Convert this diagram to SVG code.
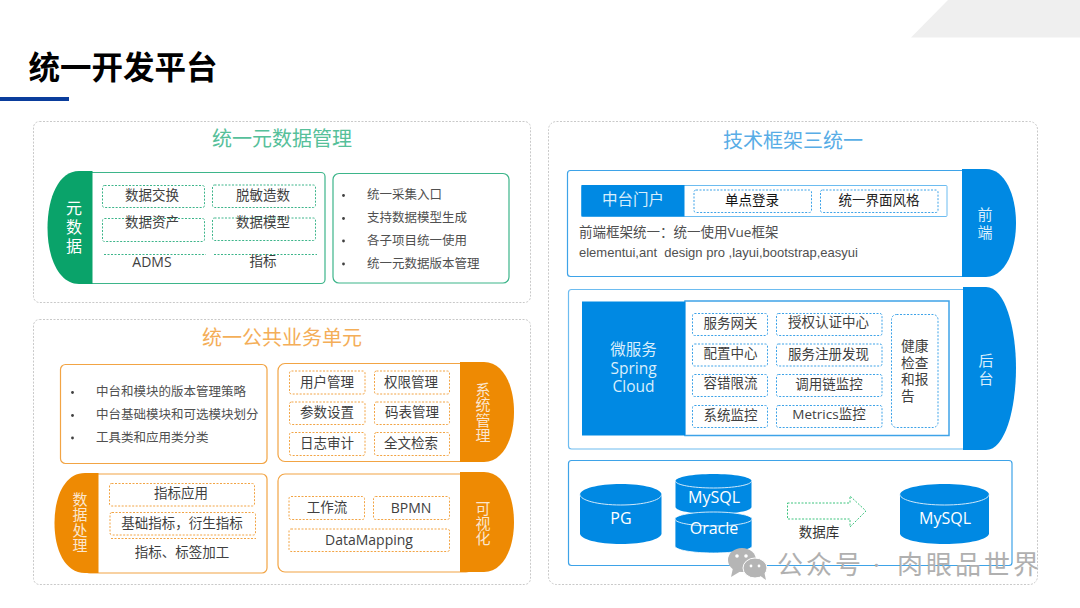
<svg xmlns="http://www.w3.org/2000/svg" width="1080" height="608" viewBox="0 0 1080 608">
<style>
text{font-family:"Open Sans","Noto Sans CJK SC",sans-serif;dominant-baseline:central;fill:#3f3f3f;transform:translateY(-1px)}
.m{text-anchor:middle}
.t13{font-size:13.5px}
.t14{font-size:14px}
.l12{font-size:12.5px;fill:#505050}
.h{font-size:20px;text-anchor:middle}
.v{font-size:15px;text-anchor:middle;fill:#fbe6cf}
.panel{fill:#fff;stroke:#c9c9c9;stroke-width:1;stroke-dasharray:2 1.5}
.g{fill:#fff;stroke:#3db58a;stroke-width:1.2}
.gd{fill:#fff;stroke:#3db58a;stroke-width:1;stroke-dasharray:2 1.5}
.gl{stroke:#3db58a;stroke-width:1;stroke-dasharray:2 1.5;fill:none}
.o{fill:#fff;stroke:#f2a444;stroke-width:1.2}
.od{fill:#fff;stroke:#f2a444;stroke-width:1;stroke-dasharray:2 1.5}
.ol{stroke:#f2a444;stroke-width:1;stroke-dasharray:2 1.5;fill:none}
.b{fill:#fff;stroke:#3ea3e8;stroke-width:1.2}
.bd{fill:#fff;stroke:#3ea3e8;stroke-width:1;stroke-dasharray:2 1.5}
.bf{fill:#0089e3}
.of{fill:#ee8a03}
.gf{fill:#0aa36a}
.rim{fill:none;stroke:#cfe8fa;stroke-width:1}
.dot{fill:#404040}
.lb{fill:#d9eefc}
.cy{font-size:16px;fill:#fff}
</style>
<rect width="1080" height="608" fill="#fff"/>
<g id="header">
<polygon points="948,0 911,37.5 1080,37.5 1080,0" fill="#efefef"/>
<text x="28.500" y="67" style="font-size:31.500px;font-weight:700;fill:#000">统一开发平台</text>
<rect x="0" y="97" width="69" height="4" fill="#0a3d9c"/>
</g>

<g id="panel-metadata">
<rect class="panel" x="33.5" y="121.5" width="497" height="181" rx="6"/>
<text class="h" x="282" y="139" style="fill:#56c09a">统一元数据管理</text>
</g>
<g id="node-metadata">
<rect class="g" x="80" y="172.5" width="245" height="111" rx="4"/>
<path class="gf" d="M92.500,171V284H79C59,284 47.500,258 47.500,228C47.500,197 59,171 79,171Z"/>
<text class="m" style="font-size:16px;fill:#fff"><tspan x="74" y="209">元</tspan><tspan x="74" y="228">数</tspan><tspan x="74" y="247">据</tspan></text>
<rect class="gd" x="102.500" y="185.500" width="102" height="22" rx="2"/>
<text class="m t13" x="152" y="196">数据交换</text>
<rect class="gd" x="212.500" y="185" width="103" height="22.500" rx="2"/>
<text class="m t13" x="263" y="195.500">脱敏造数</text>
<rect class="gd" x="102.500" y="218.500" width="102" height="23" rx="2"/>
<text class="m t13" x="152" y="223">数据资产</text>
<rect class="gd" x="212.500" y="218" width="103" height="22.500" rx="2"/>
<text class="m t13" x="263" y="223">数据模型</text>
<path class="gl" d="M104,254.500H206M214,254.500H317"/>
<text class="m t14" x="152" y="262">ADMS</text>
<text class="m t13" x="263" y="262">指标</text>
</g>
<g id="node-metadata-list">
<rect class="g" x="333" y="173.500" width="176" height="109.500" rx="6"/>
<circle class="dot" cx="343.500" cy="195.500" r="1.400"/>
<circle class="dot" cx="343.500" cy="218.500" r="1.400"/>
<circle class="dot" cx="343.500" cy="241" r="1.400"/>
<circle class="dot" cx="343.500" cy="264" r="1.400"/>
<text class="l12" x="367" y="195.500">统一采集入口</text>
<text class="l12" x="367" y="218.500">支持数据模型生成</text>
<text class="l12" x="367" y="241.500">各子项目统一使用</text>
<text class="l12" x="367" y="264.500">统一元数据版本管理</text>
</g>

<g id="panel-common">
<rect class="panel" x="33.500" y="319.500" width="497" height="265" rx="6"/>
<text class="h" x="282" y="338" style="fill:#f4ae58">统一公共业务单元</text>
</g>
<g id="node-common-list">
<rect class="o" x="60.500" y="364.500" width="206.500" height="99" rx="5"/>
<circle class="dot" cx="72.500" cy="392.500" r="1.400"/>
<circle class="dot" cx="72.500" cy="415.500" r="1.400"/>
<circle class="dot" cx="72.500" cy="438" r="1.400"/>
<text class="l12" x="96" y="392.500">中台和模块的版本管理策略</text>
<text class="l12" x="96" y="415">中台基础模块和可选模块划分</text>
<text class="l12" x="96" y="438">工具类和应用类分类</text>
</g>
<g id="node-system">
<rect class="o" x="278" y="363.500" width="195" height="98" rx="7"/>
<path class="of" d="M460,362H484C503,362 514,385 514,412C514,439 503,462 484,462H460Z"/>
<text class="v"><tspan x="483" y="389.500">系</tspan><tspan x="483" y="405">统</tspan><tspan x="483" y="420.500">管</tspan><tspan x="483" y="436">理</tspan></text>
<rect class="od" x="289.500" y="371" width="75.500" height="23" rx="2"/>
<text class="m t13" x="327" y="382.500">用户管理</text>
<rect class="od" x="374.500" y="371" width="75" height="23" rx="2"/>
<text class="m t13" x="411" y="382.500">权限管理</text>
<rect class="od" x="289.500" y="402" width="75.500" height="22.500" rx="2"/>
<text class="m t13" x="327" y="413">参数设置</text>
<rect class="od" x="374.500" y="402" width="75" height="22.500" rx="2"/>
<text class="m t13" x="412" y="413">码表管理</text>
<rect class="od" x="289.500" y="432.500" width="75.500" height="23" rx="2"/>
<text class="m t13" x="327" y="443.500">日志审计</text>
<rect class="od" x="374.500" y="432.500" width="75" height="23" rx="2"/>
<text class="m t13" x="411" y="443.500">全文检索</text>
</g>
<g id="node-dataproc">
<rect class="o" x="85" y="474" width="182" height="99" rx="5"/>
<path class="of" d="M98.500,473V573H85C65,573 54.500,550 54.500,523C54.500,496 65,473 85,473Z"/>
<text class="v"><tspan x="80" y="499.500">数</tspan><tspan x="80" y="515">据</tspan><tspan x="80" y="530.500">处</tspan><tspan x="80" y="546">理</tspan></text>
<rect class="od" x="109.500" y="483.500" width="145" height="22.500" rx="2"/>
<text class="m t13" x="181" y="494">指标应用</text>
<rect class="od" x="110" y="512.500" width="145.500" height="22.500" rx="2"/>
<text class="m t13" x="182" y="523.500">基础指标，衍生指标</text>
<path class="ol" d="M111,538.500H256"/>
<text class="m t13" x="182" y="553">指标、标签加工</text>
</g>
<g id="node-visual">
<rect class="o" x="278" y="474" width="195" height="98" rx="7"/>
<path class="of" d="M460,472H484C503,472 514,495 514,522C514,549 503,572 484,572H460Z"/>
<text class="v"><tspan x="483" y="508.500">可</tspan><tspan x="483" y="523.500">视</tspan><tspan x="483" y="539">化</tspan></text>
<rect class="od" x="289" y="496.500" width="75.500" height="23" rx="2"/>
<text class="m t13" x="327" y="508">工作流</text>
<rect class="od" x="373.500" y="496.500" width="76" height="23" rx="2"/>
<text class="m t14" x="411" y="508">BPMN</text>
<rect class="od" x="289" y="529" width="160.500" height="22.500" rx="2"/>
<text class="m t14" x="369" y="540">DataMapping</text>
</g>

<g id="panel-tech">
<rect class="panel" x="548.500" y="121.500" width="489" height="463" rx="8"/>
<text class="h" x="793" y="141" style="fill:#58ade6">技术框架三统一</text>
</g>
<g id="node-frontend">
<rect class="b" x="567.500" y="170.500" width="410" height="106" rx="3"/>
<path class="bf" d="M962,169H986C1005,169 1016,195 1016,223C1016,251 1005,277 986,277H962Z"/>
<text class="m lb" style="font-size:15px"><tspan x="985" y="215">前</tspan><tspan x="985" y="233">端</tspan></text>
<rect x="581.500" y="185.500" width="365.500" height="31" rx="1" fill="#fff" stroke="#6dbcf0" stroke-width="1"/>
<rect class="bf" x="581.500" y="185" width="103" height="31.500"/>
<text class="m lb" x="633" y="200" style="font-size:15.500px">中台门户</text>
<rect class="bd" x="694" y="190" width="117.500" height="22.500" rx="2"/>
<text class="m t13" x="752" y="201" style="fill:#111">单点登录</text>
<rect class="bd" x="820.500" y="190" width="117.500" height="22.500" rx="2"/>
<text class="m t13" x="879" y="201" style="fill:#222">统一界面风格</text>
<text x="579" y="233" style="font-size:13.500px;fill:#505050">前端框架统一：统一使用Vue框架</text>
<text x="579" y="253.500" xml:space="preserve" style="font-family:'Liberation Sans',Arial,sans-serif;font-size:13px;fill:#505050">elementui,ant  design pro ,layui,bootstrap,easyui</text>
</g>
<g id="node-backend">
<rect class="b" x="568.500" y="289.500" width="409" height="159.500" rx="3" style="stroke:#6dbcf0"/>
<path class="bf" d="M963,287H986C1005,287 1016,328 1016,368C1016,409 1005,450 986,450H963Z"/>
<text class="m lb" style="font-size:15px"><tspan x="986" y="361">后</tspan><tspan x="986" y="379">台</tspan></text>
<rect x="685" y="301" width="264" height="134.500" fill="#fff" stroke="#3ea3e8" stroke-width="1.500"/>
<rect class="bf" x="582" y="301.500" width="103" height="134"/>
<text class="m lb" style="font-size:15.500px"><tspan x="633.500" y="350">微服务</tspan><tspan x="633.500" y="369">Spring</tspan><tspan x="633.500" y="387">Cloud</tspan></text>
<rect class="bd" x="692.500" y="313.500" width="75" height="22" rx="2"/>
<text class="m t13" x="730.500" y="324">服务网关</text>
<rect class="bd" x="776.500" y="313.500" width="105.500" height="22" rx="2"/>
<text class="m t13" x="828.500" y="323">授权认证中心</text>
<rect class="bd" x="692.500" y="344" width="75" height="22" rx="2"/>
<text class="m t13" x="730.500" y="354">配置中心</text>
<rect class="bd" x="776.500" y="344" width="105.500" height="22" rx="2"/>
<text class="m t13" x="828.500" y="354.500">服务注册发现</text>
<rect class="bd" x="692.500" y="374.500" width="75" height="22" rx="2"/>
<text class="m t13" x="730.500" y="384">容错限流</text>
<rect class="bd" x="776.500" y="374.500" width="105.500" height="22" rx="2"/>
<text class="m t13" x="829" y="385">调用链监控</text>
<rect class="bd" x="692.500" y="405.500" width="75" height="22" rx="2"/>
<text class="m t13" x="730.500" y="416">系统监控</text>
<rect class="bd" x="776.500" y="405.500" width="105.500" height="22" rx="2"/>
<text class="m t13" x="829" y="415">Metrics监控</text>
<rect class="bd" x="891.500" y="314.500" width="46.500" height="113" rx="5"/>
<text style="font-size:13.700px"><tspan x="901" y="346">健康</tspan><tspan x="901" y="363">检查</tspan><tspan x="901" y="379">和报</tspan><tspan x="901" y="396">告</tspan></text>
</g>
<g id="node-database">
<rect class="b" x="568.500" y="460.500" width="443.500" height="105" rx="3"/>
</g>
<g id="node-pg">
<path class="bf" d="M580,494.500C580,488.700 598,484 620.800,484C643.500,484 661.500,488.700 661.500,494.500V533.500C661.500,539.300 643.500,544 620.800,544C598,544 580,539.300 580,533.500Z"/>
<path class="rim" d="M580,494.500C580,500.300 598,505 620.800,505C643.500,505 661.500,500.300 661.500,494.500"/>
<text class="m cy" x="621" y="518.500">PG</text>
</g>
<g id="node-mysql-a">
<path class="bf" d="M675.500,481C675.500,477.100 692.500,474 713.500,474C734.500,474 751.500,477.100 751.500,481V507C751.500,510.900 734.500,514 713.500,514C692.500,514 675.500,510.900 675.500,507Z"/>
<path class="rim" d="M675.500,481C675.500,484.900 692.500,488 713.500,488C734.500,488 751.500,484.900 751.500,481"/>
<text class="m cy" x="714" y="497.500">MySQL</text>
</g>
<g id="node-oracle">
<path class="bf" d="M675,519C675,515.100 692,512 713.500,512C735,512 752,515.100 752,519V546C752,549.900 735,553 713.500,553C692,553 675,549.900 675,546Z" stroke="#fff" stroke-width="0.800"/>
<path class="rim" d="M675,519C675,522.900 692,526 713.500,526C735,526 752,522.900 752,519"/>
<text class="m cy" x="714" y="528.500">Oracle</text>
</g>
<g id="node-mysql-b">
<path class="bf" d="M900,494.500C900,488.700 920,484 944.500,484C969,484 989,488.700 989,494.500V533.500C989,539.300 969,544 944.500,544C920,544 900,539.300 900,533.500Z"/>
<path class="rim" d="M900,494.500C900,500.300 920,505 944.500,505C969,505 989,500.300 989,494.500"/>
<text class="m cy" x="945" y="518.500">MySQL</text>
</g>
<g id="connectors">
<polygon points="787.500,503 850,503 850,496 866,511 850,527 850,519 787.500,519" fill="#fff" stroke="#3fc47f" stroke-width="1" stroke-dasharray="2 1.500"/>
<text class="m t13" x="819" y="532.500" style="fill:#333">数据库</text>
</g>
<g id="watermark">
<ellipse cx="742" cy="560" rx="14" ry="12" fill="#b5b5b5"/>
<polygon points="733,568 731,577 741,571" fill="#b5b5b5"/>
<ellipse cx="755" cy="568" rx="12" ry="10" fill="#b5b5b5" stroke="#fff" stroke-width="1"/>
<polygon points="759,575 766,580 764,571" fill="#b5b5b5"/>
<circle cx="737" cy="556" r="1.800" fill="#fff"/>
<circle cx="746" cy="556" r="1.800" fill="#fff"/>
<circle cx="751" cy="566" r="1.400" fill="#fff"/>
<circle cx="759" cy="566" r="1.400" fill="#fff"/>
<text y="565" style="font-size:26px;letter-spacing:3px;fill:#b0b0b0"><tspan x="777" y="565">公众号 </tspan><tspan x="873" y="565">· </tspan><tspan x="897" y="565">肉眼品世界</tspan></text>
</g>
</svg>
